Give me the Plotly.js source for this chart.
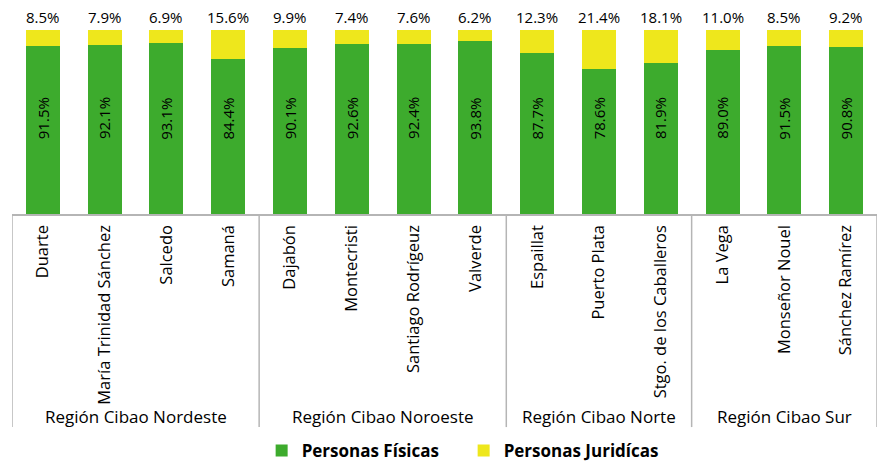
<!DOCTYPE html>
<html>
<head>
<meta charset="utf-8">
<script src="https://cdn.plot.ly/plotly-3.0.1.min.js"></script>
<style>html,body{margin:0;padding:0;background:#fff;}#chart{width:878px;height:461px;}</style>
</head>
<body>
<div id="chart"></div>
<script>
const provinces = ["Duarte","María Trinidad Sánchez","Salcedo","Samaná","Dajabón","Montecristi","Santiago Rodrígeuz","Valverde","Espaillat","Puerto Plata","Stgo. de los Caballeros","La Vega","Monseñor Nouel","Sánchez Ramírez"];
const regions = ["Región Cibao Nordeste","Región Cibao Noroeste","Región Cibao Norte","Región Cibao Sur"];
const regionSizes = [4,4,3,3];
const fisicas = [91.5,92.1,93.1,84.4,90.1,92.6,92.4,93.8,87.7,78.6,81.9,89.0,91.5,90.8];
const juridicas = [8.5,7.9,6.9,15.6,9.9,7.4,7.6,6.2,12.3,21.4,18.1,11.0,8.5,9.2];

const FONT = "Open Sans, sans-serif";
const idx = provinces.map((_, i) => i);

const traces = [
  {type:"bar", name:"Personas Físicas", x: idx, y: fisicas, marker:{color:"#3dab2d"}, hoverinfo:"skip"},
  {type:"bar", name:"Personas Juridícas", x: idx, y: juridicas, marker:{color:"#eee71c"}, hoverinfo:"skip"}
];

const annotations = [];
fisicas.forEach((v, i) => {
  annotations.push({x:i, y:52, xref:"x", yref:"y", text: v.toFixed(1)+"%", showarrow:false, textangle:-90, font:{family:FONT, size:15, color:"#000"}});
});
juridicas.forEach((v, i) => {
  annotations.push({x:i, y:fisicas[i]+v, xref:"x", yref:"y", text: v.toFixed(1)+"%", showarrow:false, yanchor:"bottom", yshift:1, font:{family:FONT, size:15, color:"#000"}});
});

const shapes = [];
let start = 0;
const bounds = [-0.5];
regionSizes.forEach((n, r) => {
  const mid = start + (n - 1) / 2;
  annotations.push({x: mid, y: -1.103, xref:"x", yref:"paper", text: regions[r], showarrow:false, yanchor:"middle", font:{family:FONT, size:17, color:"#000"}});
  start += n;
  bounds.push(start - 0.5);
});
bounds.forEach(b => {
  shapes.push({type:"line", xref:"x", yref:"paper", x0:b, x1:b, y0:0, y1:-1.158, line:{color:"#b5b5b5", width:1.5}});
});

const layout = {
  width:878, height:461,
  margin:{l:12, r:1, t:30, b:247},
  barmode:"stack",
  bargap:0.45,
  showlegend:true,
  legend:{orientation:"h", xref:"container", yref:"container", x:0.298, xanchor:"left", y:0.0217, yanchor:"middle",
          font:{family:FONT, size:17, color:"#000", weight:"bold"}, traceorder:"normal",
          entrywidth:157, entrywidthmode:"pixels"},
  xaxis:{
    range:[-0.5, provinces.length - 0.5],
    tickmode:"array", tickvals: idx, ticktext: provinces,
    tickangle:-90, showline:true, linecolor:"#b5b5b5", linewidth:1.5,
    ticks:"", showgrid:false, zeroline:false, ticklabelstandoff:3,
    tickfont:{family:FONT, size:16.5, color:"#000"}, fixedrange:true
  },
  yaxis:{range:[0,100], visible:false, showgrid:false, zeroline:false, fixedrange:true},
  annotations: annotations,
  shapes: shapes,
  paper_bgcolor:"#fff", plot_bgcolor:"#fff",
  font:{family:FONT}
};

Plotly.newPlot("chart", traces, layout, {displayModeBar:false, staticPlot:true});
</script>
</body>
</html>
